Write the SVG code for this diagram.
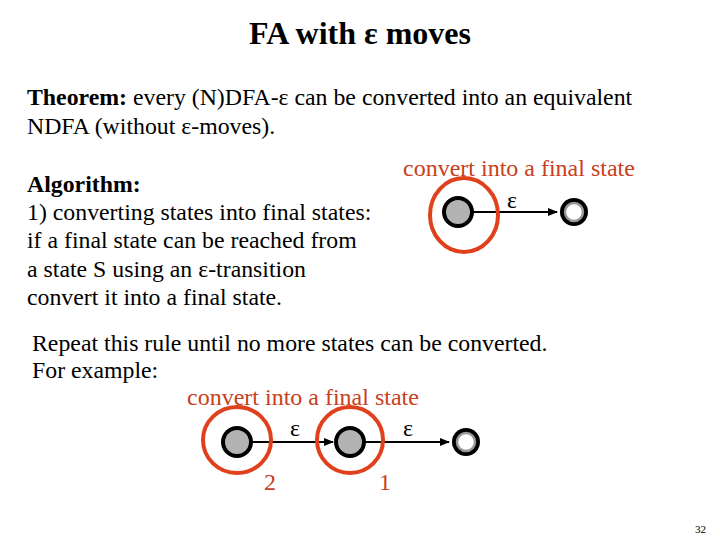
<svg xmlns="http://www.w3.org/2000/svg" width="720" height="540" viewBox="0 0 720 540">
<defs>
<style>
text{font-family:'Liberation Serif','Times New Roman',serif;fill:#000}
.b{font-size:23.8px}
.r{fill:#c8401c;font-size:24px}
.st{fill:#b3b3b3;stroke:#000;stroke-width:4}
.ring{fill:none;stroke:#e0401c;stroke-width:4}
.e{stroke:#000;stroke-width:2;fill:none;marker-end:url(#a)}
</style>
<marker id="a" markerWidth="10" markerHeight="8" refX="9" refY="4" orient="auto" markerUnits="userSpaceOnUse"><path d="M0,0L10,4L0,8z" fill="#000"/></marker>
</defs>
<rect width="720" height="540" fill="#fff"/>
<text x="360" y="44" text-anchor="middle" font-size="32" font-weight="bold">FA with ε moves</text>
<text class="b" x="27" y="105"><tspan font-weight="bold">Theorem:</tspan> every (N)DFA-ε can be converted into an equivalent</text>
<text class="b" x="27" y="134">NDFA (without ε-moves).</text>
<text class="b" x="27" y="192" font-weight="bold">Algorithm:</text>
<text class="b" x="27" y="220">1) converting states into final states:</text>
<text class="b" x="27" y="248">if a final state can be reached from</text>
<text class="b" x="27" y="277">a state S using an ε-transition</text>
<text class="b" x="27" y="305">convert it into a final state.</text>
<text class="b" x="32" y="351">Repeat this rule until no more states can be converted.</text>
<text class="b" x="32" y="378">For example:</text>
<text class="r" x="403" y="176">convert into a final state</text>
<text class="r" x="187" y="405">convert into a final state</text>
<g id="connectors">
<line class="e" x1="473" y1="212" x2="557" y2="212"/>
<line class="e" x1="252" y1="442" x2="333" y2="442"/>
<line class="e" x1="365" y1="442" x2="449" y2="442"/>
<text class="b" x="512" y="208" text-anchor="middle">ε</text>
<text class="b" x="295" y="436" text-anchor="middle">ε</text>
<text class="b" x="408" y="436" text-anchor="middle">ε</text>
</g>
<g id="n1"><circle class="st" cx="458" cy="212" r="14"/><ellipse class="ring" cx="464" cy="215" rx="34" ry="37"/></g>
<g id="f1"><circle cx="574" cy="212" r="14" fill="#000"/><circle cx="574" cy="212" r="9" fill="#fff" stroke="#999" stroke-width="2.5"/></g>
<g id="n2"><circle class="st" cx="237" cy="442" r="14"/><ellipse class="ring" cx="237" cy="440" rx="34" ry="33"/></g>
<g id="n3"><circle class="st" cx="350" cy="442" r="14"/><ellipse class="ring" cx="350" cy="440" rx="33" ry="33"/></g>
<g id="f2"><circle cx="466" cy="442" r="14" fill="#000"/><circle cx="466" cy="442" r="9" fill="#fff" stroke="#999" stroke-width="2.5"/></g>
<text class="r" x="270" y="490" text-anchor="middle">2</text>
<text class="r" x="385" y="490" text-anchor="middle">1</text>
<text x="706" y="533" font-size="11" font-family="'Liberation Sans',sans-serif" text-anchor="end">32</text>
</svg>
